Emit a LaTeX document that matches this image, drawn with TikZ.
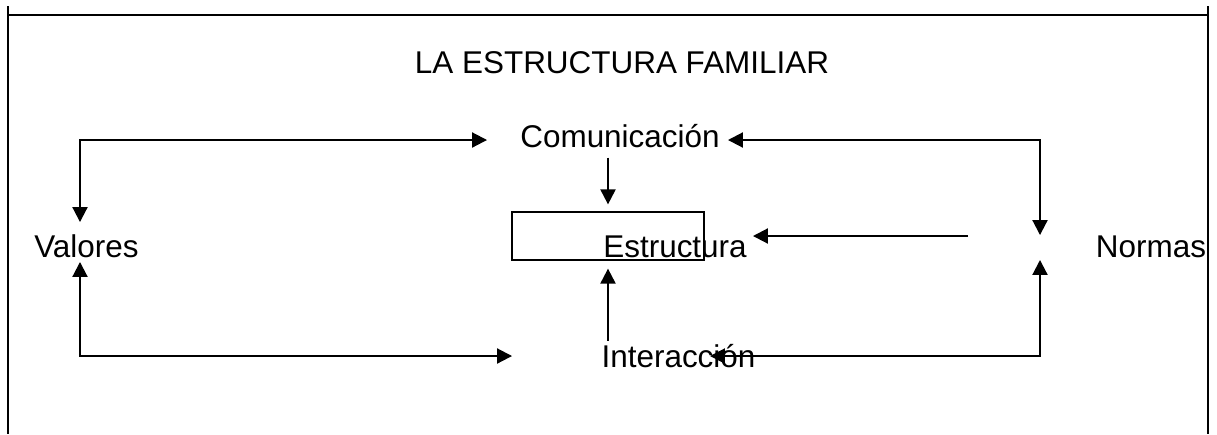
\documentclass[tikz,border=0pt]{standalone}
\usepackage{fontspec}
\setmainfont{Liberation Sans}
\usetikzlibrary{arrows.meta}
\tikzset{edge/.style = {line width=0.9pt, {Triangle[length=8.5pt,width=8.6pt]}-{Triangle[length=8.5pt,width=8.6pt]}},
         oneway/.style = {line width=0.9pt, -{Triangle[length=8.5pt,width=8.6pt]}},
         etiqueta/.style = {inner sep=0pt, anchor=base, font=\fontsize{17.9}{21}\selectfont}}

\begin{document}
\begin{tikzpicture}[x=0.02cm, y=-0.02cm]
        \useasboundingbox (0,0) rectangle (1217,434);

        % Marco
        \draw[line width=1.1pt] (8,6) -- (8,434);
        \draw[line width=1.1pt] (1208,6) -- (1208,434);
        \draw[line width=1.1pt] (8,15) -- (1208,15);

        % Textos
        \node[etiqueta] (titulo) at (622,73) {LA ESTRUCTURA FAMILIAR};
        \node[etiqueta] (comunic) at (620,147) {Comunicación};
        \node[etiqueta] (valores) at (86.5,257) {Valores};
        \node[etiqueta] (estruct) at (675,257) {Estructura};
        \node[etiqueta] (normas) at (1151,257) {Normas};
        \node[etiqueta] (interac) at (678.5,367) {Interacción};
        \node[draw, line width=0.75pt, inner sep=0pt, minimum width=192*0.02cm, minimum height=48*0.02cm] (caja) at (608,236) {};

        % Esquinas y extremos
        \coordinate (v-arr) at (80,222);
        \coordinate (v-aba) at (80,262);
        \coordinate (v-sup) at (80,140);
        \coordinate (v-inf) at (80,356);
        \coordinate (n-arr) at (1040,235);
        \coordinate (n-aba) at (1040,260);
        \coordinate (n-sup) at (1040,140);
        \coordinate (n-inf) at (1040,356);
        \coordinate (c-izq) at (487,140);
        \coordinate (c-der) at (728,140);
        \coordinate (i-izq) at (512,356);
        \coordinate (i-der) at (710,356);
        \coordinate (e-der) at (968,236);
        \coordinate (e-pta) at (753,236);

        \draw[edge] (v-arr) -- (v-sup) -- (c-izq);
        \draw[edge] (v-aba) -- (v-inf) -- (i-izq);
        \draw[edge] (c-der) -- (n-sup) -- (n-arr);
        \draw[edge] (i-der) -- (n-inf) -- (n-aba);
        \draw[oneway] (e-der) -- (e-pta);
        \draw[oneway, shorten <=10*0.02cm, shorten >=7*0.02cm] (comunic.south -| caja.north) -- (caja.north);
        \draw[oneway, shorten <=3*0.02cm, shorten >=8*0.02cm] (interac.north -| caja.south) -- (caja.south);
\end{tikzpicture}
\end{document}
